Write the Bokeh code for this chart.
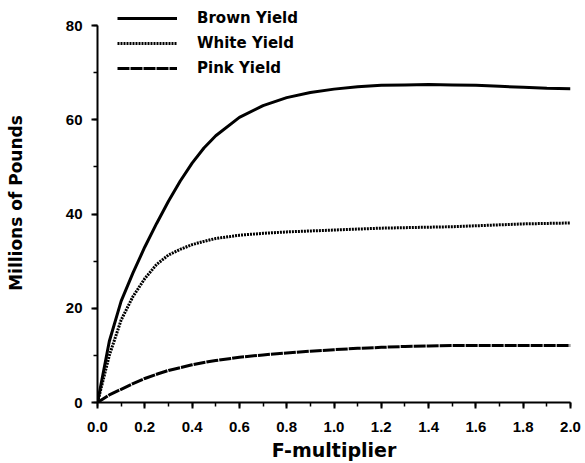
from bokeh.plotting import figure
from bokeh.models import Legend, LegendItem, FixedTicker, Range1d
from bokeh.embed import file_html
from bokeh.resources import INLINE

f_mult = [0, 0.05, 0.1, 0.15, 0.2, 0.25, 0.3, 0.35, 0.4, 0.45, 0.5, 0.6, 0.7, 0.8, 0.9,
          1.0, 1.1, 1.2, 1.3, 1.4, 1.5, 1.6, 1.7, 1.8, 1.9, 2.0]
brown = [0, 13, 21.5, 27.5, 33, 38, 42.7, 47, 50.8, 54, 56.6, 60.5, 63, 64.7, 65.8,
         66.5, 67, 67.3, 67.4, 67.5, 67.4, 67.3, 67.1, 66.9, 66.7, 66.6]
white = [0, 10, 17.5, 22.5, 26.3, 29.3, 31.3, 32.5, 33.5, 34.2, 34.8, 35.5, 35.9, 36.2, 36.4,
         36.6, 36.8, 37, 37.1, 37.2, 37.3, 37.5, 37.7, 37.9, 38, 38.1]
pink = [0, 1.6, 2.8, 4, 5.1, 6, 6.8, 7.4, 8, 8.5, 8.9, 9.6, 10.1, 10.5, 10.9,
        11.2, 11.5, 11.7, 11.9, 12.0, 12.1, 12.1, 12.1, 12.1, 12.1, 12.1]
x_ticks = [0, 0.2, 0.4, 0.6, 0.8, 1.0, 1.2, 1.4, 1.6, 1.8, 2.0]
y_ticks = [0, 20, 40, 60, 80]

# frame extends a little above 80 so the legend (above the axis top) is not clipped
p = figure(width=585, height=463, output_backend="svg", toolbar_location=None,
           x_range=Range1d(0, 2.0), y_range=Range1d(0, 84.67),
           min_border_left=97, min_border_right=15, min_border_top=3, min_border_bottom=61)
p.outline_line_color = None
p.grid.grid_line_color = None

r1 = p.line(f_mult, brown, line_color="black", line_width=3)
r2 = p.line(f_mult, white, line_color="black", line_width=3, line_dash="2 1")
r3 = p.line(f_mult, pink, line_color="black", line_width=3, line_dash="12 1")

for ax in (p.xaxis[0], p.yaxis[0]):
    ax.axis_line_width = 2
    ax.major_tick_line_width = 2
    ax.minor_tick_line_width = 1.5
    ax.major_tick_in = 0
    ax.major_tick_out = 6
    ax.minor_tick_in = 0
    ax.minor_tick_out = 4
    ax.major_label_text_font = "Liberation Sans"
    ax.major_label_text_font_style = "bold"
    ax.major_label_text_font_size = "15px"
    ax.major_label_text_color = "black"
    ax.axis_label_text_font = "DejaVu Sans"
    ax.axis_label_text_font_style = "bold"
    ax.axis_label_text_color = "black"

p.yaxis.bounds = (0, 80)
p.xaxis.ticker = FixedTicker(ticks=x_ticks, minor_ticks=[i / 10 for i in range(21)])
p.yaxis.ticker = FixedTicker(ticks=y_ticks, minor_ticks=list(range(0, 81, 10)))
p.xaxis.major_label_overrides = {t: f"{t:.1f}" for t in x_ticks}
p.xaxis.axis_label = "F-multiplier"
p.yaxis.axis_label = "Millions of Pounds"
p.xaxis.axis_label_text_font_size = "19px"
p.yaxis.axis_label_text_font_size = "17px"
p.xaxis.axis_label_standoff = 4
p.yaxis.axis_label_standoff = 37
p.xaxis.major_label_standoff = 13
p.yaxis.major_label_standoff = 9

legend = Legend(items=[LegendItem(label="Brown Yield", renderers=[r1]),
                       LegendItem(label="White Yield", renderers=[r2]),
                       LegendItem(label="Pink Yield", renderers=[r3])],
                location=(20, 325), orientation="vertical")
legend.padding = 0
legend.margin = 0
legend.spacing = 7
legend.glyph_width = 60
legend.glyph_height = 12
legend.label_height = 12
legend.label_standoff = 20
legend.border_line_color = None
legend.background_fill_alpha = 0
legend.label_text_font = "DejaVu Sans"
legend.label_text_font_style = "bold"
legend.label_text_font_size = "15px"
legend.label_text_color = "black"
p.add_layout(legend, "center")

open("out.html", "w").write(file_html(p, INLINE))
